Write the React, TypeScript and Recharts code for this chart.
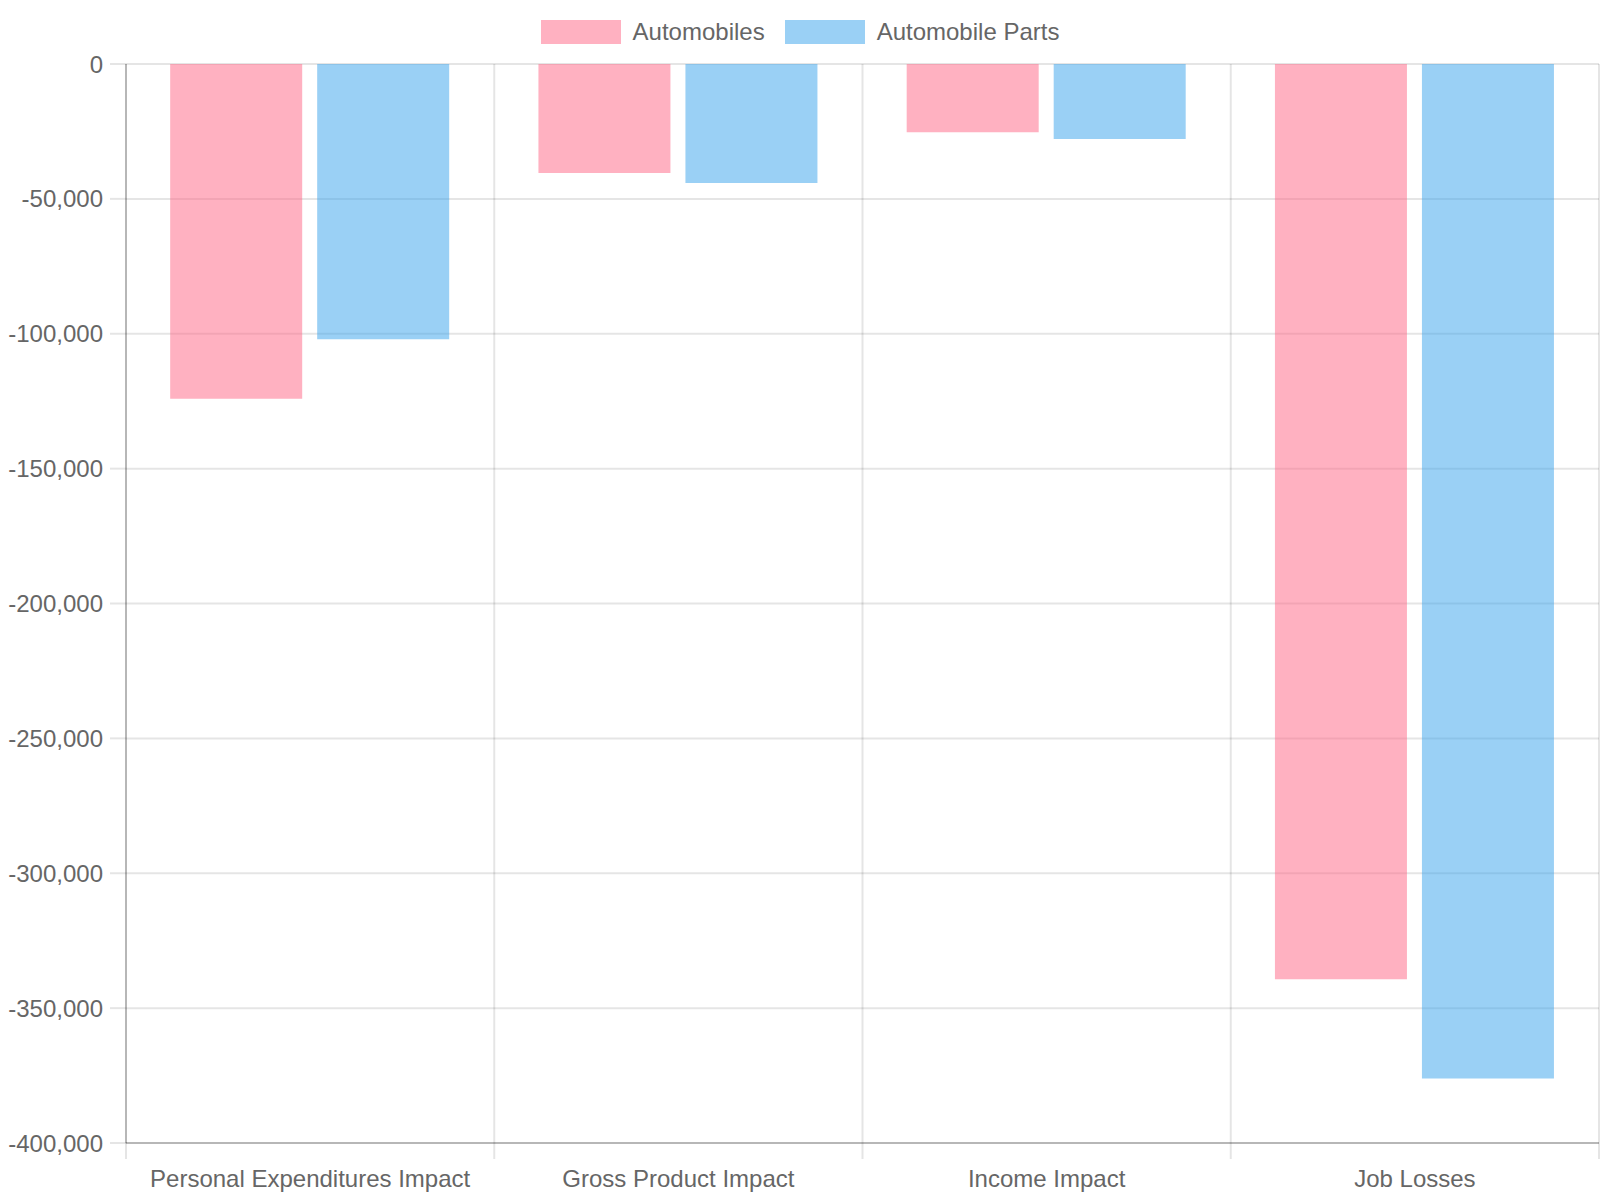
import React from "react";
import {
  BarChart,
  Bar,
  XAxis,
  YAxis,
  CartesianGrid,
  Legend,
} from "recharts";

const categories = [
  "Personal Expenditures Impact",
  "Gross Product Impact",
  "Income Impact",
  "Job Losses",
];
const seriesNames = ["Automobiles", "Automobile Parts"];
const automobiles = [-124100, -40400, -25300, -339300];
const automobileParts = [-102000, -44100, -27800, -376100];
const yTicks = [0, -50000, -100000, -150000, -200000, -250000, -300000, -350000, -400000];

const WIDTH = 1600;
const HEIGHT = 1200;
const Y_AXIS_WIDTH = 126;
const MARGIN = { top: 16, right: 1, left: 0, bottom: 0 };
const HALF_BAND = (WIDTH - Y_AXIS_WIDTH - MARGIN.right) / categories.length / 2;

const FONT = "'Liberation Sans', Arial, Helvetica, sans-serif";
const TEXT = "#666";
const GRID = "rgba(0,0,0,0.1)";
const BORDER = "rgba(0,0,0,0.2)";

const data = categories.map((name, i) => ({
  name,
  automobiles: automobiles[i],
  parts: automobileParts[i],
}));

function CategoryTick({ x, y, payload, index }: any) {
  return (
    <g>
      <line x1={x - HALF_BAND} x2={x - HALF_BAND} y1={y} y2={y + 16} stroke={GRID} strokeWidth={2} />
      {index === categories.length - 1 && (
        <line x1={x + HALF_BAND} x2={x + HALF_BAND} y1={y} y2={y + 16} stroke={GRID} strokeWidth={2} />
      )}
      <text x={x} y={y + 44} textAnchor="middle" fill={TEXT} fontSize={24} fontFamily={FONT}>
        {payload.value}
      </text>
    </g>
  );
}

function LegendContent({ payload }: any) {
  const items = [...(payload || [])].sort(
    (a: any, b: any) => seriesNames.indexOf(a.value) - seriesNames.indexOf(b.value)
  );
  return (
    <div
      style={{
        height: 48,
        display: "flex",
        justifyContent: "center",
        alignItems: "center",
        gap: 20,
        fontFamily: FONT,
        fontSize: 24,
        color: TEXT,
      }}
    >
      {items.map((p: any) => (
        <div key={p.value} style={{ display: "flex", alignItems: "center" }}>
          <span
            style={{
              width: 80,
              height: 24,
              background: p.color,
              opacity: 0.5,
              marginRight: 12,
              display: "inline-block",
            }}
          />
          <span>{p.value}</span>
        </div>
      ))}
    </div>
  );
}

export default function App() {
  return (
    <div style={{ position: "absolute", left: 0, top: 0, background: "#fff" }}>
      <BarChart
        width={WIDTH}
        height={HEIGHT}
        data={data}
        margin={MARGIN}
        barCategoryGap="12%"
        barGap={15}
        style={{ fontFamily: FONT }}
      >
        <CartesianGrid
          stroke={GRID}
          strokeWidth={2}
          verticalCoordinatesGenerator={({ offset }: any) =>
            categories
              .map((_, i) => offset.left + (offset.width * i) / categories.length)
              .concat(offset.left + offset.width)
          }
        />
        <XAxis
          dataKey="name"
          height={HEIGHT - 1143}
          interval={0}
          tickSize={0}
          tickMargin={0}
          tickLine={false}
          axisLine={{ stroke: BORDER, strokeWidth: 2 }}
          tick={<CategoryTick />}
        />
        <YAxis
          width={Y_AXIS_WIDTH}
          domain={[-400000, 0]}
          ticks={yTicks}
          interval={0}
          tickSize={16}
          tickMargin={7}
          tickLine={{ stroke: GRID, strokeWidth: 2 }}
          axisLine={{ stroke: BORDER, strokeWidth: 2 }}
          tick={{ fill: TEXT, fontSize: 24, fontFamily: FONT }}
          tickFormatter={(v: number) => v.toLocaleString("en-US")}
        />
        <Legend
          verticalAlign="top"
          content={<LegendContent />}
          wrapperStyle={{ top: 8, left: 0, width: WIDTH }}
        />
        <Bar
          dataKey="automobiles"
          name={seriesNames[0]}
          fill="rgb(255,99,132)"
          fillOpacity={0.5}
          isAnimationActive={false}
        />
        <Bar
          dataKey="parts"
          name={seriesNames[1]}
          fill="rgb(54,162,235)"
          fillOpacity={0.5}
          isAnimationActive={false}
        />
      </BarChart>
    </div>
  );
}
